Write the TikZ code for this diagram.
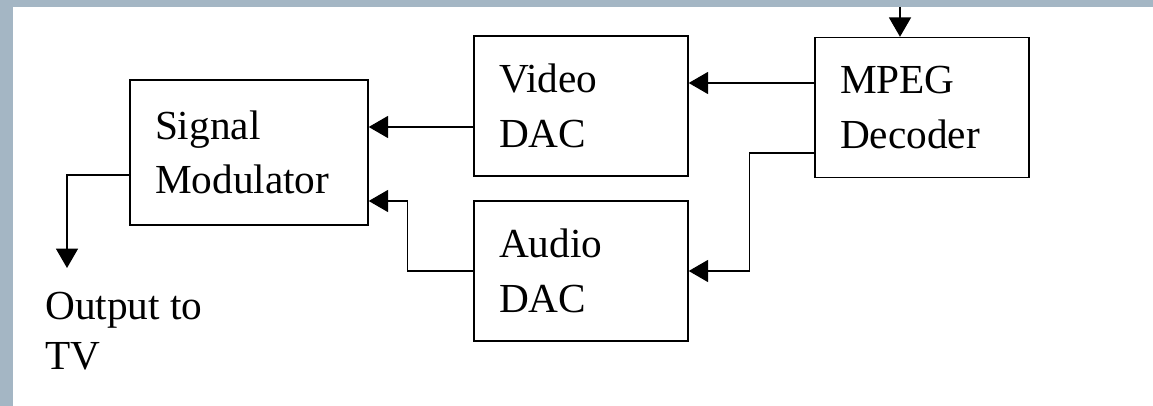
\documentclass[tikz,border=0pt]{standalone}
\usepackage{fontspec}
\setmainfont{Liberation Serif}
\usetikzlibrary{arrows.meta}
\definecolor{bandblue}{RGB}{164,182,196}
\begin{document}
\begin{tikzpicture}[
  box/.style={draw, line width=0.8pt, inner xsep=0.5cm, minimum height=2.8cm, text width=3.28cm, align=left, font=\fontsize{23.5}{31}\selectfont},
  note/.style={font=\fontsize{23.5}{28.5}\selectfont, align=left, inner sep=0pt},
  arr/.style={line width=0.8pt, -{Triangle[length=11pt,width=12.5pt]}}
]
\useasboundingbox (0,0) rectangle (23.06,-8.12);
\fill[bandblue] (0,0) rectangle (23.06,-0.14);
\fill[bandblue] (0,0) rectangle (0.26,-8.12);
\node[box, text width=3.76cm, minimum height=2.9cm] (mod) at (4.98,-3.05) {Signal\\Modulator};
\node[box] (video) at (11.62,-2.12) {Video\\DAC};
\node[box] (audio) at (11.62,-5.42) {Audio\\DAC};
\node[box] (mpeg) at (18.44,-2.15) {MPEG\\Decoder};
\coordinate (in) at (18.0,-0.14);
\coordinate (tip) at (1.34,-5.36);
\node[note, anchor=north west] (out) at (0.9,-5.84) {Output to\\TV};
\draw[arr] (in) -- (in |- mpeg.north);
\draw[arr] ([yshift=0.49cm]mpeg.west) -- ([yshift=0.49cm]mpeg.west -| video.east);
\draw[arr] ([yshift=-0.91cm]mpeg.west) -- ++(-1.3,0) |- (audio.east);
\draw[arr] ([yshift=-0.42cm]video.west) -- ([yshift=-0.42cm]video.west -| mod.east);
\draw[arr] (audio.west) -- ++(-1.32,0) |- ([yshift=-0.97cm]mod.east);
\draw[arr] ([yshift=-0.45cm]mod.west) -| (tip);
\end{tikzpicture}
\end{document}
